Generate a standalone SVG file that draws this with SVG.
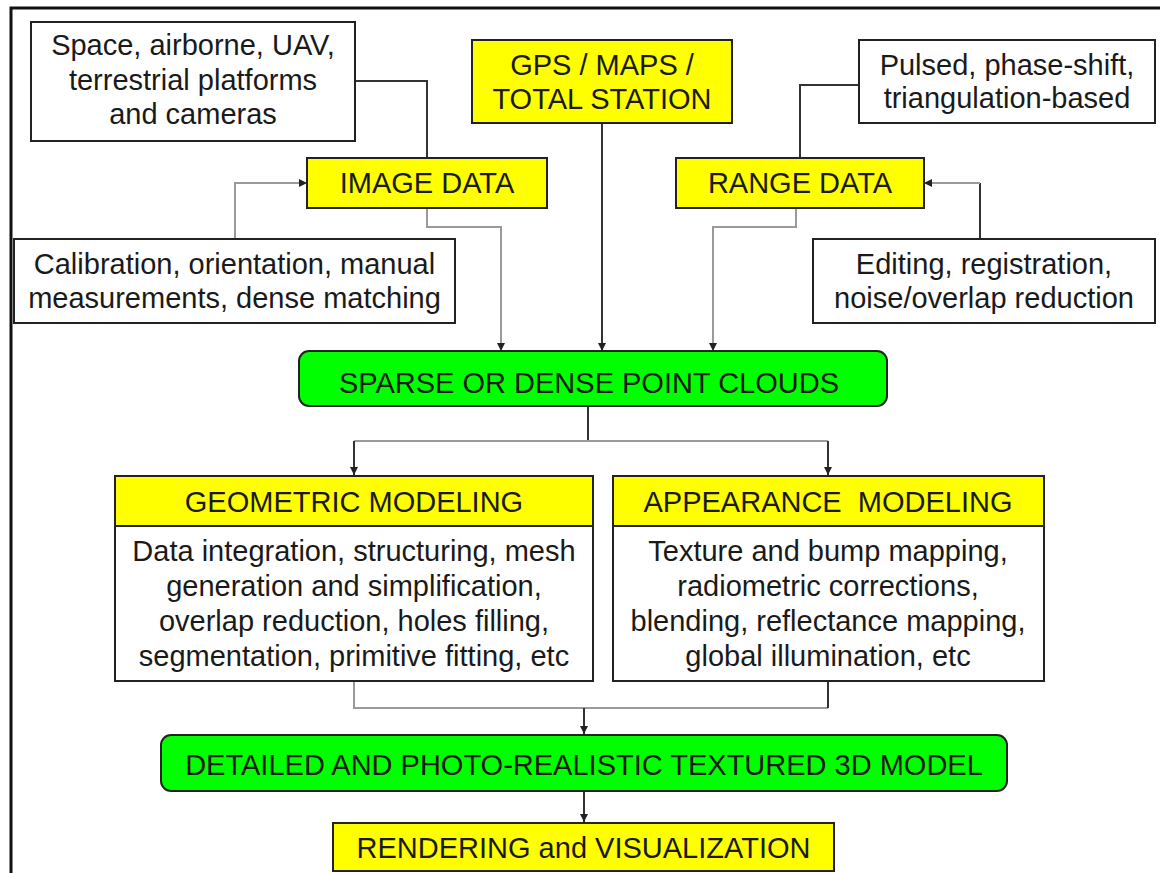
<svg xmlns="http://www.w3.org/2000/svg" width="1160" height="873" viewBox="0 0 1160 873">
<defs>
<style>
.t{font-family:"Liberation Sans",Arial,sans-serif;font-size:29px;fill:#1a1a1a;text-anchor:middle}
.box{fill:#fff;stroke:#222;stroke-width:2}
.yel{fill:#ffff00;stroke:#222;stroke-width:2}
.grn{fill:#00ff00;stroke:#222;stroke-width:2}
.dk{fill:none;stroke:#333;stroke-width:2}
.gr{fill:none;stroke:#9a9a9a;stroke-width:2}
</style>
<marker id="ah" markerUnits="userSpaceOnUse" markerWidth="10" markerHeight="10" refX="8" refY="4" orient="auto">
<path d="M0,0 L8,4 L0,8 z" fill="#222"/>
</marker>
</defs>
<rect width="1160" height="873" fill="#fff"/>
<path d="M11 873 V8 H1160" fill="none" stroke="#111" stroke-width="3"/>

<g id="connectors">
<path class="dk" d="M355 81 H427 V158"/>
<path class="dk" d="M859 85 H800 V158"/>
<path class="gr" d="M235 239 V183 H307" marker-end="url(#ah)"/>
<path class="dk" d="M980 239 V183"/>
<path class="gr" d="M980 183 H924" marker-end="url(#ah)"/>
<path class="gr" d="M427 208 V227 H501 V351" marker-end="url(#ah)"/>
<path class="dk" d="M602 123 V351" marker-end="url(#ah)"/>
<path class="gr" d="M796 208 V227 H713 V351" marker-end="url(#ah)"/>
<path class="dk" d="M588 406 V441"/>
<path class="gr" d="M354 441 H828"/>
<path class="dk" d="M354 441 V475" marker-end="url(#ah)"/>
<path class="dk" d="M828 441 V475" marker-end="url(#ah)"/>
<path class="gr" d="M354 681 V708 H828"/>
<path class="dk" d="M828 681 V708"/>
<path class="dk" d="M584 708 V734" marker-end="url(#ah)"/>
<path class="dk" d="M584 791 V822" marker-end="url(#ah)"/>
</g>

<g id="platforms">
<rect class="box" x="31" y="22" width="324" height="119"/>
<text class="t" x="193" y="55">Space, airborne, UAV,</text>
<text class="t" x="193" y="90">terrestrial platforms</text>
<text class="t" x="193" y="124">and cameras</text>
</g>

<g id="gps">
<rect class="yel" x="472" y="40" width="260" height="83"/>
<text class="t" x="602" y="75">GPS / MAPS /</text>
<text class="t" x="602" y="109">TOTAL STATION</text>
</g>

<g id="pulsed">
<rect class="box" x="859" y="40" width="296" height="83"/>
<text class="t" x="1007" y="75">Pulsed, phase-shift,</text>
<text class="t" x="1007" y="108">triangulation-based</text>
</g>

<g id="image-data">
<rect class="yel" x="307" y="158" width="240" height="50"/>
<text class="t" x="427" y="193">IMAGE DATA</text>
</g>

<g id="range-data">
<rect class="yel" x="676" y="158" width="248" height="50"/>
<text class="t" x="800" y="193">RANGE DATA</text>
</g>

<g id="calibration">
<rect class="box" x="14" y="239" width="441" height="84"/>
<text class="t" x="234.5" y="274">Calibration, orientation, manual</text>
<text class="t" x="234.5" y="308">measurements, dense matching</text>
</g>

<g id="editing">
<rect class="box" x="813" y="239" width="342" height="84"/>
<text class="t" x="984" y="274">Editing, registration,</text>
<text class="t" x="984" y="308">noise/overlap reduction</text>
</g>

<g id="point-clouds">
<rect class="grn" x="299" y="351" width="588" height="55" rx="10" ry="10"/>
<text class="t" x="589" y="393">SPARSE OR DENSE POINT CLOUDS</text>
</g>

<g id="geometric">
<rect class="yel" x="115" y="476" width="478" height="50"/>
<rect class="box" x="115" y="526" width="478" height="155"/>
<text class="t" x="354" y="512">GEOMETRIC MODELING</text>
<text class="t" x="354" y="561">Data integration, structuring, mesh</text>
<text class="t" x="354" y="596">generation and simplification,</text>
<text class="t" x="354" y="631">overlap reduction, holes filling,</text>
<text class="t" x="354" y="666">segmentation, primitive fitting, etc</text>
</g>

<g id="appearance">
<rect class="yel" x="613" y="476" width="431" height="50"/>
<rect class="box" x="613" y="526" width="431" height="155"/>
<text class="t" x="828" y="512" xml:space="preserve">APPEARANCE  MODELING</text>
<text class="t" x="828" y="561">Texture and bump mapping,</text>
<text class="t" x="828" y="596">radiometric corrections,</text>
<text class="t" x="828" y="631">blending, reflectance mapping,</text>
<text class="t" x="828" y="666">global illumination, etc</text>
</g>

<g id="model">
<rect class="grn" x="161" y="735" width="846" height="56" rx="10" ry="10"/>
<text class="t" x="584" y="775">DETAILED AND PHOTO-REALISTIC TEXTURED 3D MODEL</text>
</g>

<g id="rendering">
<rect class="yel" x="333" y="823" width="501" height="48"/>
<text class="t" x="583.5" y="858">RENDERING and VISUALIZATION</text>
</g>
</svg>
